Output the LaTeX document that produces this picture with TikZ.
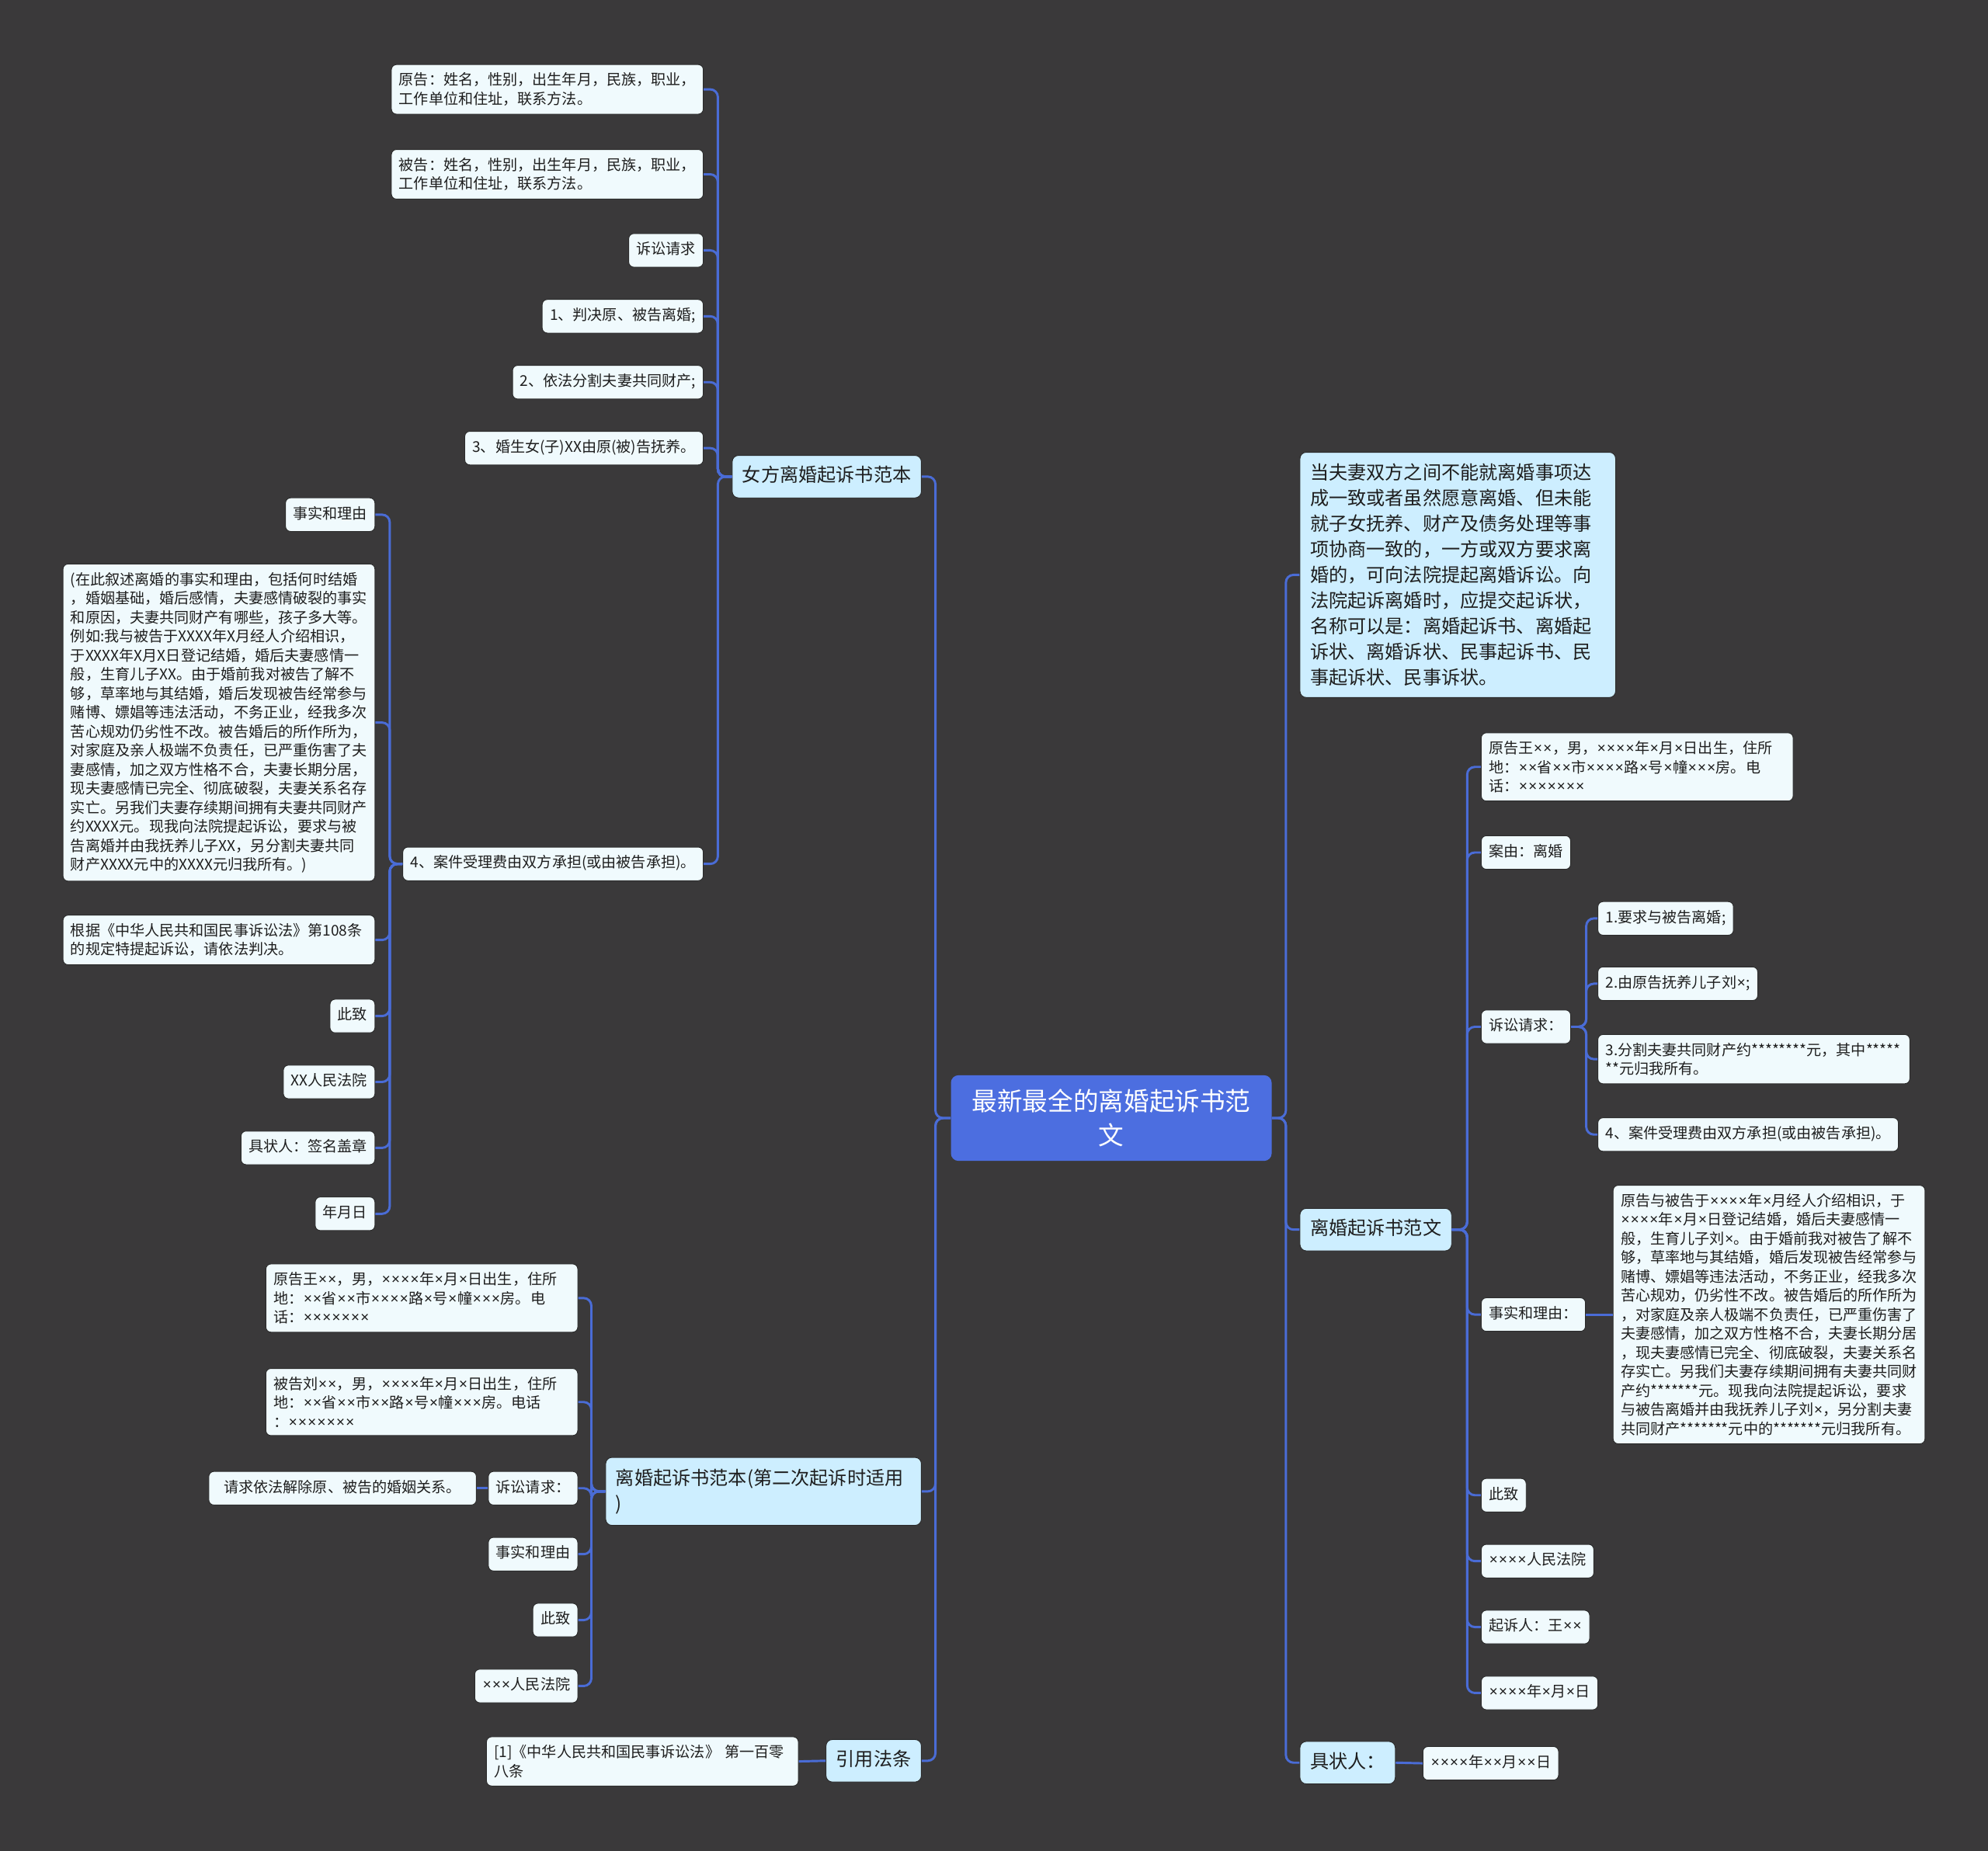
\documentclass[tikz,border=0pt]{standalone}
\usepackage{fontspec}
\newfontfamily\cjk{Noto Sans CJK SC}
\newfontfamily\latf{Noto Sans}
\catcode`\×=\active
\def×{\makebox[0.64em]{\latf\char"D7}}
\definecolor{bg}{HTML}{3A393A}
\definecolor{leaffill}{HTML}{F0FAFD}
\definecolor{leafedge}{HTML}{2C2C2C}
\definecolor{lonefill}{HTML}{CDEEFF}
\definecolor{rootfill}{HTML}{4C6EE0}
\definecolor{linec}{HTML}{4A6CD6}
\definecolor{txt}{HTML}{1E1E1E}
\newcommand\lk[3]{\draw[conn] (#1.west) -- ++(-#3,0) |- (#2.east);}
\newcommand\rk[3]{\draw[conn] (#1.east) -- ++(#3,0) |- (#2.west);}
\begin{document}
\begin{tikzpicture}[x=1pt,y=-1pt,
  leaf/.style={rectangle, rounded corners=4, fill=leaffill, draw=leafedge, line width=0.6,
    text=txt, font=\cjk\fontsize{11.7}{15}\selectfont, inner xsep=6, inner ysep=7},
  one/.style={text height=9.5, text depth=3},
  wide/.style={text width=234, align=left, inner xsep=6, inner ysep=6.5},
  lone/.style={rectangle, rounded corners=5, fill=lonefill, draw=leafedge, line width=0.6,
    text=txt, font=\cjk\fontsize{14.8}{20.2}\selectfont, inner xsep=8, inner ysep=9},
  lonesingle/.style={text height=12, text depth=3.5},
  rootnode/.style={rectangle, rounded corners=6, fill=rootfill, text=white,
    font=\cjk\fontsize{20}{27}\selectfont, text width=231, align=center, inner xsep=11, inner ysep=11},
  conn/.style={draw=linec, line width=1.8, rounded corners=6}
]
\fill[bg] (0,0) rectangle (1568,1460);
\useasboundingbox (0,0) rectangle (1568,1460);

% root
\node[rootnode] (root) at (876.5,882) {最新最全的离婚起诉书范\\文};

% ---------- left branch 1
\node[lone, lonesingle, anchor=east] (L1) at (727,376) {女方离婚起诉书范本};
\node[leaf, wide, anchor=east] (L1a) at (555,70.5) {原告：姓名，性别，出生年月，民族，职业，\\工作单位和住址，联系方法。};
\node[leaf, wide, anchor=east] (L1b) at (555,137.5) {被告：姓名，性别，出生年月，民族，职业，\\工作单位和住址，联系方法。};
\node[leaf, one, anchor=east] (L1c) at (555,197.5) {诉讼请求};
\node[leaf, one, anchor=east] (L1d) at (555,249.5) {1、判决原、被告离婚;};
\node[leaf, one, anchor=east] (L1e) at (555,301.5) {2、依法分割夫妻共同财产;};
\node[leaf, one, anchor=east] (L1f) at (555,353.5) {3、婚生女(子)XX由原(被)告抚养。};
\node[leaf, one, anchor=east] (L1g) at (555,681.5) {4、案件受理费由双方承担(或由被告承担)。};

\node[leaf, one, anchor=east] (G1) at (296,406) {事实和理由};
\node[leaf, wide, anchor=east] (G2) at (296,570) {(在此叙述离婚的事实和理由，包括何时结婚\\，婚姻基础，婚后感情，夫妻感情破裂的事实\\和原因，夫妻共同财产有哪些，孩子多大等。\\例如:我与被告于XXXX年X月经人介绍相识，\\于XXXX年X月X日登记结婚，婚后夫妻感情一\\般，生育儿子XX。由于婚前我对被告了解不\\够，草率地与其结婚，婚后发现被告经常参与\\赌博、嫖娼等违法活动，不务正业，经我多次\\苦心规劝仍劣性不改。被告婚后的所作所为，\\对家庭及亲人极端不负责任，已严重伤害了夫\\妻感情，加之双方性格不合，夫妻长期分居，\\现夫妻感情已完全、彻底破裂，夫妻关系名存\\实亡。另我们夫妻存续期间拥有夫妻共同财产\\约XXXX元。现我向法院提起诉讼，要求与被\\告离婚并由我抚养儿子XX，另分割夫妻共同\\财产XXXX元中的XXXX元归我所有。)};
\node[leaf, wide, anchor=east] (G3) at (296,741.5) {根据《中华人民共和国民事诉讼法》第108条\\的规定特提起诉讼，请依法判决。};
\node[leaf, one, anchor=east] (G4) at (296,801.5) {此致};
\node[leaf, one, anchor=east] (G5) at (296,853.5) {XX人民法院};
\node[leaf, one, anchor=east] (G6) at (296,905.5) {具状人：签名盖章};
\node[leaf, one, anchor=east] (G7) at (296,957.5) {年月日};

% ---------- left branch 2
\node[lone, anchor=east, text width=233, align=left] (L2) at (727,1176.5) {离婚起诉书范本(第二次起诉时适用\\)};
\node[leaf, wide, anchor=east] (L2a) at (456,1024) {原告王××，男，××××年×月×日出生，住所\\地：××省××市××××路×号×幢×××房。电\\话：×××××××};
\node[leaf, wide, anchor=east] (L2b) at (456,1106) {被告刘××，男，××××年×月×日出生，住所\\地：××省××市××路×号×幢×××房。电话\\：×××××××};
\node[leaf, one, anchor=east] (L2c) at (456,1174) {诉讼请求：};
\node[leaf, one, anchor=east, minimum width=211] (L2c1) at (376,1174) {请求依法解除原、被告的婚姻关系。};
\node[leaf, one, anchor=east] (L2d) at (456,1226) {事实和理由};
\node[leaf, one, anchor=east] (L2e) at (456,1278) {此致};
\node[leaf, one, anchor=east] (L2f) at (456,1330) {×××人民法院};

% ---------- left branch 3
\node[lone, lonesingle, anchor=east] (L3) at (727,1389) {引用法条};
\node[leaf, wide, anchor=east] (L3a) at (630,1389.5) {[1]《中华人民共和国民事诉讼法》 第一百零\\八条};

% ---------- right branch 1
\node[lone, anchor=west, text width=233, align=left] (R1) at (1025,453.5) {当夫妻双方之间不能就离婚事项达\\成一致或者虽然愿意离婚、但未能\\就子女抚养、财产及债务处理等事\\项协商一致的，一方或双方要求离\\婚的，可向法院提起离婚诉讼。向\\法院起诉离婚时，应提交起诉状，\\名称可以是：离婚起诉书、离婚起\\诉状、离婚诉状、民事起诉书、民\\事起诉状、民事诉状。};

% ---------- right branch 2
\node[lone, lonesingle, anchor=west] (R2) at (1025,970) {离婚起诉书范文};
\node[leaf, wide, anchor=west] (R2a) at (1168,605) {原告王××，男，××××年×月×日出生，住所\\地：××省××市××××路×号×幢×××房。电\\话：×××××××};
\node[leaf, one, anchor=west] (R2b) at (1168,672.5) {案由：离婚};
\node[leaf, one, anchor=west] (R2c) at (1168,810) {诉讼请求：};
\node[leaf, one, anchor=west] (R2c1) at (1260,724.5) {1.要求与被告离婚;};
\node[leaf, one, anchor=west] (R2c2) at (1260,776) {2.由原告抚养儿子刘×;};
\node[leaf, wide, anchor=west] (R2c3) at (1260,835.5) {3.分割夫妻共同财产约********元，其中*****\\{}**元归我所有。};
\node[leaf, one, anchor=west] (R2c4) at (1260,895) {4、案件受理费由双方承担(或由被告承担)。};
\node[leaf, one, anchor=west] (R2d) at (1168,1037) {事实和理由：};
\node[leaf, wide, anchor=west] (R2d1) at (1272,1037) {原告与被告于××××年×月经人介绍相识，于\\××××年×月×日登记结婚，婚后夫妻感情一\\般，生育儿子刘×。由于婚前我对被告了解不\\够，草率地与其结婚，婚后发现被告经常参与\\赌博、嫖娼等违法活动，不务正业，经我多次\\苦心规劝，仍劣性不改。被告婚后的所作所为\\，对家庭及亲人极端不负责任，已严重伤害了\\夫妻感情，加之双方性格不合，夫妻长期分居\\，现夫妻感情已完全、彻底破裂，夫妻关系名\\存实亡。另我们夫妻存续期间拥有夫妻共同财\\产约*******元。现我向法院提起诉讼，要求\\与被告离婚并由我抚养儿子刘×，另分割夫妻\\共同财产*******元中的*******元归我所有。};
\node[leaf, one, anchor=west] (R2e) at (1168,1179.5) {此致};
\node[leaf, one, anchor=west] (R2f) at (1168,1231.5) {××××人民法院};
\node[leaf, one, anchor=west] (R2g) at (1168,1283.5) {起诉人：王××};
\node[leaf, one, anchor=west] (R2h) at (1168,1335.5) {××××年×月×日};

% ---------- right branch 3
\node[lone, lonesingle, anchor=west] (R3) at (1025,1390.5) {具状人：};
\node[leaf, one, anchor=west] (R3a) at (1122,1391) {××××年××月××日};

% ---------- connectors
\foreach \c in {L1,L2,L3} {\lk{root}{\c}{12}}
\foreach \c in {R1,R2,R3} {\rk{root}{\c}{11}}
\foreach \c in {L1a,L1b,L1c,L1d,L1e,L1f,L1g} {\lk{L1}{\c}{11}}
\foreach \c in {G1,G2,G3,G4,G5,G6,G7} {\lk{L1g}{\c}{10}}
\foreach \c in {L2a,L2b,L2c,L2d,L2e,L2f} {\lk{L2}{\c}{11}}
\draw[conn] (L2c.west) -- (L2c1.east);
\draw[conn] (L3.west) -- (L3a.east);
\foreach \c in {R2a,R2b,R2c,R2d,R2e,R2f,R2g,R2h} {\rk{R2}{\c}{12}}
\foreach \c in {R2c1,R2c2,R2c3,R2c4} {\rk{R2c}{\c}{12}}
\draw[conn] (R2d.east) -- (R2d1.west);
\draw[conn] (R3.east) -- (R3a.west);
\end{tikzpicture}
\end{document}
